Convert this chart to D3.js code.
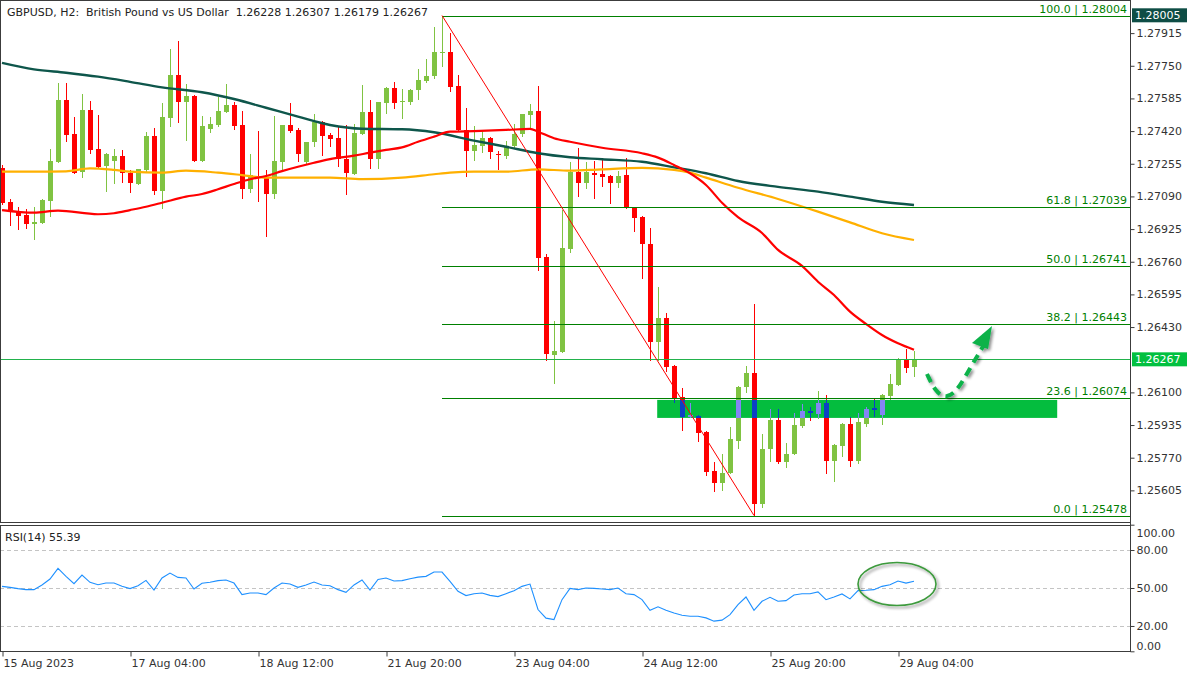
<!DOCTYPE html>
<html><head><meta charset="utf-8">
<script src="https://cdn.jsdelivr.net/npm/d3@7/dist/d3.min.js"></script>
<style>
body{margin:0;background:#fff;}
svg{display:block;font-family:"DejaVu Sans",sans-serif;}
</style>
</head><body>
<svg id="c" width="1200" height="675"></svg>
<script>
// ---------------- DATA ----------------
const titleText = "GBPUSD, H2:  British Pound vs US Dollar  1.26228 1.26307 1.26179 1.26267";
const rsiTitle = "RSI(14) 55.39";

const opens = [1.27234,1.27062,1.27011,1.26996,1.26951,1.26956,1.27067,1.27264,1.27577,1.27405,
1.27213,1.27526,1.27330,1.27244,1.27269,1.27294,1.27208,1.27153,1.27223,1.27395,
1.27117,1.27486,1.27703,1.27567,1.27597,1.27269,1.27431,1.27451,1.27516,1.27552,
1.27451,1.27128,1.27193,1.27188,1.27102,1.27264,1.27451,1.27426,1.27264,1.27365,
1.27466,1.27400,1.27385,1.27279,1.27203,1.27405,1.27516,1.27279,1.27562,1.27638,
1.27567,1.27567,1.27628,1.27673,1.27698,1.27816,1.27819,1.27648,1.27426,1.27319,
1.27345,1.27385,1.27304,1.27294,1.27345,1.27405,1.27501,1.27521,1.26784,1.26289,
1.26304,1.26825,1.27213,1.27158,1.27208,1.27203,1.27193,1.27158,1.27198,1.27032,
1.26986,1.26850,1.26355,1.26476,1.26234,1.26077,1.25976,1.25981,1.25900,1.25703,
1.25643,1.25693,1.25855,1.26128,1.26198,1.25537,1.25815,1.25961,1.25749,1.25789,
1.25931,1.26006,1.25991,1.26047,1.25754,1.25830,1.25941,1.25754,1.25941,1.26022,
1.25986,1.26082,1.26138,1.26269,1.26228];
const highs = [1.27249,1.27077,1.27037,1.27027,1.27037,1.27077,1.27330,1.27663,1.27663,1.27491,
1.27607,1.27572,1.27501,1.27309,1.27330,1.27324,1.27223,1.27229,1.27415,1.27436,
1.27562,1.27835,1.27875,1.27658,1.27602,1.27496,1.27491,1.27592,1.27658,1.27567,
1.27521,1.27304,1.27420,1.27223,1.27496,1.27451,1.27562,1.27436,1.27365,1.27506,
1.27471,1.27410,1.27446,1.27451,1.27456,1.27653,1.27577,1.27567,1.27643,1.27668,
1.27633,1.27633,1.27734,1.27784,1.27946,1.28004,1.27915,1.27703,1.27537,1.27446,
1.27426,1.27390,1.27319,1.27370,1.27456,1.27506,1.27557,1.27648,1.26799,1.26461,
1.27021,1.27264,1.27335,1.27264,1.27269,1.27284,1.27198,1.27218,1.27284,1.27037,
1.26991,1.26931,1.26633,1.26501,1.26239,1.26123,1.26047,1.25986,1.25905,1.25749,
1.25789,1.25926,1.26133,1.26234,1.26547,1.25890,1.26017,1.26017,1.25845,1.25996,
1.26042,1.26027,1.26107,1.26087,1.25840,1.25946,1.25976,1.25996,1.26027,1.26072,
1.26092,1.26193,1.26274,1.26320,1.26307];
const lows = [1.27047,1.26941,1.26920,1.26926,1.26870,1.26951,1.26986,1.27259,1.27365,1.27203,
1.27183,1.27304,1.27234,1.27112,1.27153,1.27158,1.27107,1.27148,1.27208,1.27097,
1.27027,1.27441,1.27461,1.27370,1.27264,1.27264,1.27410,1.27441,1.27511,1.27426,
1.27077,1.27107,1.27062,1.26885,1.27077,1.27213,1.27410,1.27264,1.27249,1.27340,
1.27294,1.27340,1.27239,1.27097,1.27198,1.27400,1.27229,1.27229,1.27506,1.27532,
1.27481,1.27552,1.27577,1.27663,1.27683,1.27744,1.27617,1.27420,1.27188,1.27269,
1.27309,1.27279,1.27223,1.27279,1.27335,1.27390,1.27426,1.26713,1.26259,1.26143,
1.26299,1.26804,1.27087,1.27128,1.27077,1.27138,1.27052,1.27133,1.27027,1.26910,
1.26673,1.26259,1.26259,1.26203,1.26047,1.25905,1.25971,1.25850,1.25678,1.25597,
1.25602,1.25688,1.25815,1.26097,1.25478,1.25517,1.25749,1.25739,1.25719,1.25784,
1.25921,1.25956,1.25966,1.25688,1.25648,1.25774,1.25724,1.25739,1.25926,1.25976,
1.25936,1.26062,1.26133,1.26198,1.26179];
const closes = [1.27057,1.27021,1.26991,1.26951,1.26961,1.27072,1.27269,1.27577,1.27400,1.27208,
1.27526,1.27324,1.27239,1.27304,1.27294,1.27208,1.27158,1.27229,1.27395,1.27117,
1.27491,1.27703,1.27567,1.27597,1.27269,1.27446,1.27456,1.27521,1.27552,1.27446,
1.27128,1.27198,1.27183,1.27102,1.27269,1.27451,1.27420,1.27304,1.27365,1.27466,
1.27395,1.27380,1.27279,1.27208,1.27410,1.27516,1.27279,1.27567,1.27638,1.27562,
1.27572,1.27628,1.27678,1.27698,1.27819,1.27822,1.27643,1.27426,1.27319,1.27350,
1.27385,1.27314,1.27299,1.27345,1.27405,1.27506,1.27521,1.26779,1.26294,1.26309,
1.26830,1.27213,1.27158,1.27213,1.27198,1.27188,1.27158,1.27193,1.27032,1.26981,
1.26850,1.26355,1.26476,1.26229,1.26072,1.25976,1.25986,1.25895,1.25698,1.25643,
1.25693,1.25865,1.26128,1.26198,1.25537,1.25815,1.25961,1.25749,1.25789,1.25936,
1.26006,1.25996,1.26047,1.25754,1.25835,1.25941,1.25754,1.25951,1.26017,1.26012,
1.26087,1.26143,1.26269,1.26224,1.26267];

const rsiValues = [51.3,50.5,49.5,48.7,48.7,52.4,57.1,65.5,59.2,53.4,
60.2,54.5,52.6,53.9,53.9,51.3,49.5,51.8,56.0,48.4,
57.9,61.8,58.4,57.9,49.2,53.7,54.5,55.8,56.3,53.9,
44.8,46.1,46.1,44.8,50.0,53.9,53.1,50.5,52.4,54.7,
52.4,51.8,48.7,46.6,52.4,56.3,48.4,56.8,57.9,55.5,
55.8,57.3,58.6,59.2,62.6,62.6,55.2,47.4,44.0,45.5,
46.1,44.2,43.2,45.5,47.9,51.3,53.1,33.0,26.2,25.1,
40.8,49.7,48.7,50.0,49.7,49.2,48.7,50.0,45.5,44.8,
40.8,32.4,35.1,32.4,30.3,28.5,27.7,27.7,26.4,23.8,
24.6,29.0,36.9,42.9,32.4,39.5,42.7,39.5,40.0,44.5,
45.5,45.5,46.9,40.8,42.9,45.3,41.4,47.9,48.2,48.7,
51.3,52.6,55.5,53.9,55.39];

// moving averages (sampled at bar indices)
const maSlowBars = [0,4,8,12,16,20,25,29,33,37,41,45,50,54,59,63,67,71,75,80,84,88,92,97,102,106,110,114];
const maSlow = [1.27765,1.27732,1.27715,1.27695,1.27669,1.27641,1.27616,1.27582,1.27538,1.27493,1.27451,1.27432,1.27429,1.27414,1.27372,1.27341,1.27308,1.27288,1.27278,1.27265,1.27237,1.27207,1.27168,1.27138,1.27114,1.27089,1.27063,1.27047];
const maMidBars = [0,4,8,11,14,16,20,23,27,30,33,37,41,45,50,54,56,59,63,67,71,75,80,84,86,88,92,97,102,106,110,114];
const maMid = [1.27215,1.27215,1.27217,1.27232,1.27224,1.27215,1.27210,1.27220,1.27210,1.27198,1.27185,1.27185,1.27185,1.27177,1.27185,1.27202,1.27210,1.27215,1.27215,1.27227,1.27220,1.27227,1.27234,1.27224,1.27210,1.27185,1.27134,1.27077,1.27013,1.26959,1.26904,1.26870];
const maFastBars = [0,4,7,12,14,16,18,20,23,25,27,29,31,33,35,37,39,41,44,46,48,50,52,54,56,59,63,66,67,69,71,75,80,82,84,86,88,90,92,95,97,100,102,104,106,108,110,112,114];
const maFast = [1.27021,1.27008,1.27018,1.27000,1.27005,1.27021,1.27038,1.27058,1.27089,1.27102,1.27126,1.27153,1.27177,1.27193,1.27218,1.27240,1.27260,1.27278,1.27296,1.27311,1.27325,1.27338,1.27366,1.27392,1.27417,1.27420,1.27426,1.27431,1.27417,1.27384,1.27366,1.27336,1.27308,1.27286,1.27249,1.27207,1.27148,1.27058,1.26985,1.26905,1.26820,1.26739,1.26659,1.26592,1.26508,1.26446,1.26390,1.26348,1.26315];

// fibonacci retracement
const fibLevels = [100.0, 61.8, 50.0, 38.2, 23.6, 0.0];
const fibPrices = [1.28004, 1.27039, 1.26741, 1.26443, 1.26074, 1.25478];
const fibStartBar = 55;
const trendFrom = {bar:55, price:1.28004};
const trendTo = {bar:94, price:1.25478};

const currentPrice = 1.26267;
const markerPrice = 1.28005;
const zoneBars = [81.9, 131.9];
const zonePrices = [1.26062, 1.25971];

const priceTicks = [1.27915,1.27750,1.27585,1.27420,1.27255,1.27090,1.26925,1.26760,1.26595,1.26430,1.26100,1.25935,1.25770,1.25605];
const rsiTicks = [100,80,50,20,0];
const rsiLevels = [80,50,20];
const timeBars = [0,16,32,48,64,80,96,112];
const timeLabels = ["15 Aug 2023","17 Aug 04:00","18 Aug 12:00","21 Aug 20:00","23 Aug 04:00","24 Aug 12:00","25 Aug 20:00","29 Aug 04:00"];

// ---------------- CHART ----------------
const svg = d3.select('#c');
const axisX = 1130;
const x = d3.scaleLinear().domain([0,141]).range([2,1130]);
const y = d3.scaleLinear().domain([1.25478,1.28004]).range([515.5,15.5]);
const yr = d3.scaleLinear().domain([0,100]).range([651.3,524.7]);
const GREEN='#80c342', RED='#ff0000';
const FONT=11;

const defs = svg.append('defs');
defs.append('clipPath').attr('id','mainClip').append('rect').attr('x',1).attr('y',1).attr('width',axisX-1).attr('height',521);
defs.append('clipPath').attr('id','rsiClip').append('rect').attr('x',1).attr('y',526).attr('width',axisX-1).attr('height',125);
defs.append('clipPath').attr('id','zoneClip').append('rect')
  .attr('x',x(zoneBars[0])).attr('y',y(zonePrices[0]))
  .attr('width',x(zoneBars[1])-x(zoneBars[0])).attr('height',y(zonePrices[1])-y(zonePrices[0]));
const sh = defs.append('filter').attr('id','shadow').attr('x','-20%').attr('y','-20%').attr('width','150%').attr('height','150%');
sh.append('feGaussianBlur').attr('in','SourceAlpha').attr('stdDeviation',1.6);
sh.append('feOffset').attr('dx',2).attr('dy',2).attr('result','ob');
sh.append('feComponentTransfer').append('feFuncA').attr('type','linear').attr('slope',0.45);
const m = sh.append('feMerge'); m.append('feMergeNode'); m.append('feMergeNode').attr('in','SourceGraphic');

const main = svg.append('g').attr('clip-path','url(#mainClip)');
const bars = d3.range(opens.length);

function drawCandles(g, up, dn){
  const col = i => closes[i] >= opens[i] ? up : dn;
  g.selectAll('line').data(bars).join('line')
    .attr('x1', i => Math.round(x(i)) + 0.5).attr('x2', i => Math.round(x(i)) + 0.5)
    .attr('y1', i => y(highs[i])).attr('y2', i => y(lows[i]))
    .attr('stroke', col).attr('stroke-width', 1);
  g.selectAll('rect').data(bars).join('rect')
    .attr('x', i => Math.round(x(i)) - 2).attr('width', 5)
    .attr('y', i => Math.round(y(Math.max(opens[i], closes[i]))))
    .attr('height', i => Math.max(1, Math.round(Math.abs(y(opens[i]) - y(closes[i])))))
    .attr('fill', col);
}
drawCandles(main.append('g').attr('shape-rendering','crispEdges'), GREEN, RED);

// zone rectangle with recoloured candles inside
main.append('rect')
  .attr('x',x(zoneBars[0])).attr('y',y(zonePrices[0]))
  .attr('width',x(zoneBars[1])-x(zoneBars[0])).attr('height',y(zonePrices[1])-y(zonePrices[0]))
  .attr('fill','#04bd3e');
drawCandles(main.append('g').attr('clip-path','url(#zoneClip)').attr('shape-rendering','crispEdges'), '#8484f4', '#0c40c4');

// moving averages
const maLine = (b) => d3.line().x((d,k)=>x(b[k])).y(d=>y(d)).curve(d3.curveMonotoneX);
main.append('path').datum(maSlow).attr('d', maLine(maSlowBars)).attr('fill','none').attr('stroke','#0e564b').attr('stroke-width',2.4);
main.append('path').datum(maMid).attr('d', maLine(maMidBars)).attr('fill','none').attr('stroke','#ffb000').attr('stroke-width',2.2);
main.append('path').datum(maFast).attr('d', maLine(maFastBars)).attr('fill','none').attr('stroke','#ff0000').attr('stroke-width',2.2);

// fib lines
const fibG = main.append('g');
fibPrices.forEach((p,k)=>{
  const yy = Math.round(y(p)) + 0.5;
  fibG.append('line').attr('x1',x(fibStartBar)).attr('x2',axisX).attr('y1',yy).attr('y2',yy)
    .attr('stroke','#008000').attr('stroke-width',1);
  fibG.append('text').attr('x',1127).attr('y',yy-3.5).attr('text-anchor','end')
    .attr('font-size',FONT).attr('fill','#008000')
    .text(fibLevels[k].toFixed(1) + ' | ' + p.toFixed(5));
});

// current price line
const cy = Math.round(y(currentPrice)) + 0.5;
main.append('line').attr('x1',0).attr('x2',axisX).attr('y1',cy).attr('y2',cy).attr('stroke','#22b24c').attr('stroke-width',1);

// trend line
main.append('line')
  .attr('x1',x(trendFrom.bar)).attr('y1',y(trendFrom.price))
  .attr('x2',x(trendTo.bar)).attr('y2',y(trendTo.price))
  .attr('stroke','#ff0000').attr('stroke-width',1);

// dashed arrow
const arrowPts = [[927,374],[935,391],[946,399],[958,390],[970,368],[984,345]];
const ag = main.append('g').attr('filter','url(#shadow)');
ag.append('path').datum(arrowPts).attr('d', d3.line().curve(d3.curveBasis))
  .attr('fill','none').attr('stroke','#08b24a').attr('stroke-width',4).attr('stroke-dasharray','9,6');
ag.append('path').attr('d','M992,326 L972,343 L988,349 Z').attr('fill','#08b24a');

// title
svg.append('text').attr('x',7).attr('y',15.5).attr('font-size',FONT).attr('fill','#222')
  .attr('xml:space','preserve').style('white-space','pre')
  .attr('textLength',421).attr('lengthAdjust','spacingAndGlyphs').text(titleText);

// frames
const frame = svg.append('g').attr('fill','none').attr('stroke','#3c3c3c').attr('stroke-width',1).attr('shape-rendering','crispEdges');
frame.append('rect').attr('x',0.5).attr('y',0.5).attr('width',axisX).attr('height',522);
frame.append('rect').attr('x',0.5).attr('y',525.5).attr('width',axisX).attr('height',125.5);

// price axis
const pa = svg.append('g').attr('transform',`translate(${axisX+0.5},0)`)
  .call(d3.axisRight(y).tickValues(priceTicks).tickSize(4).tickPadding(2).tickFormat(d3.format('.5f')));
pa.select('.domain').remove();
pa.selectAll('line').attr('stroke','#3c3c3c');
pa.selectAll('text').attr('font-size',FONT).attr('font-family','DejaVu Sans').attr('fill','#333');
svg.append('line').attr('x1',axisX+0.5).attr('x2',axisX+0.5).attr('y1',0).attr('y2',651).attr('stroke','#3c3c3c');

// price labels on axis
function axisBox(p, fill){
  const yy = y(p);
  svg.append('rect').attr('x',1132).attr('y',yy-7).attr('width',55).attr('height',14).attr('fill',fill);
  svg.append('text').attr('x',1135).attr('y',yy+4).attr('font-size',FONT).attr('fill','#fff').text(p.toFixed(5));
}
axisBox(markerPrice,'#0e4d45');
axisBox(currentPrice,'#02c040');

// RSI panel
const rg = svg.append('g').attr('clip-path','url(#rsiClip)');
rsiLevels.forEach(v=>{
  rg.append('line').attr('x1',0).attr('x2',axisX).attr('y1',Math.round(yr(v))+0.5).attr('y2',Math.round(yr(v))+0.5)
    .attr('stroke','#c4c4c4').attr('stroke-dasharray','4,3');
});
rg.append('path').datum(rsiValues).attr('d', d3.line().x((d,i)=>x(i)).y(d=>yr(d)))
  .attr('fill','none').attr('stroke','#1e90ff').attr('stroke-width',1.1);
svg.append('text').attr('x',5).attr('y',541).attr('font-size',FONT).attr('fill','#222').text(rsiTitle);

const ra = svg.append('g').attr('transform',`translate(${axisX+0.5},0)`)
  .call(d3.axisRight(yr).tickValues(rsiTicks).tickSize(4).tickPadding(2).tickFormat(d3.format('.2f')));
ra.select('.domain').remove();
ra.selectAll('line').attr('stroke','#3c3c3c');
ra.selectAll('text').attr('font-size',FONT).attr('font-family','DejaVu Sans').attr('fill','#333')
  .attr('dy', d => d===100 ? '1.05em' : d===0 ? '-0.2em' : '0.32em');

// RSI ellipse
svg.append('ellipse').attr('cx',897).attr('cy',584).attr('rx',39).attr('ry',21.5)
  .attr('fill','none').attr('stroke','#3d9a3d').attr('stroke-width',1.6).attr('filter','url(#shadow)');

// time axis
const ta = svg.append('g').attr('transform','translate(0,651.5)')
  .call(d3.axisBottom(x).tickValues(timeBars).tickSize(5).tickPadding(3).tickFormat((d,k)=>timeLabels[k]));
ta.select('.domain').remove();
ta.selectAll('line').attr('stroke','#3c3c3c').attr('transform','translate(0.5,0)');
ta.selectAll('text').attr('font-size',FONT).attr('font-family','DejaVu Sans').attr('fill','#333')
  .attr('text-anchor','start').attr('dx',1);
</script>
</body></html>
